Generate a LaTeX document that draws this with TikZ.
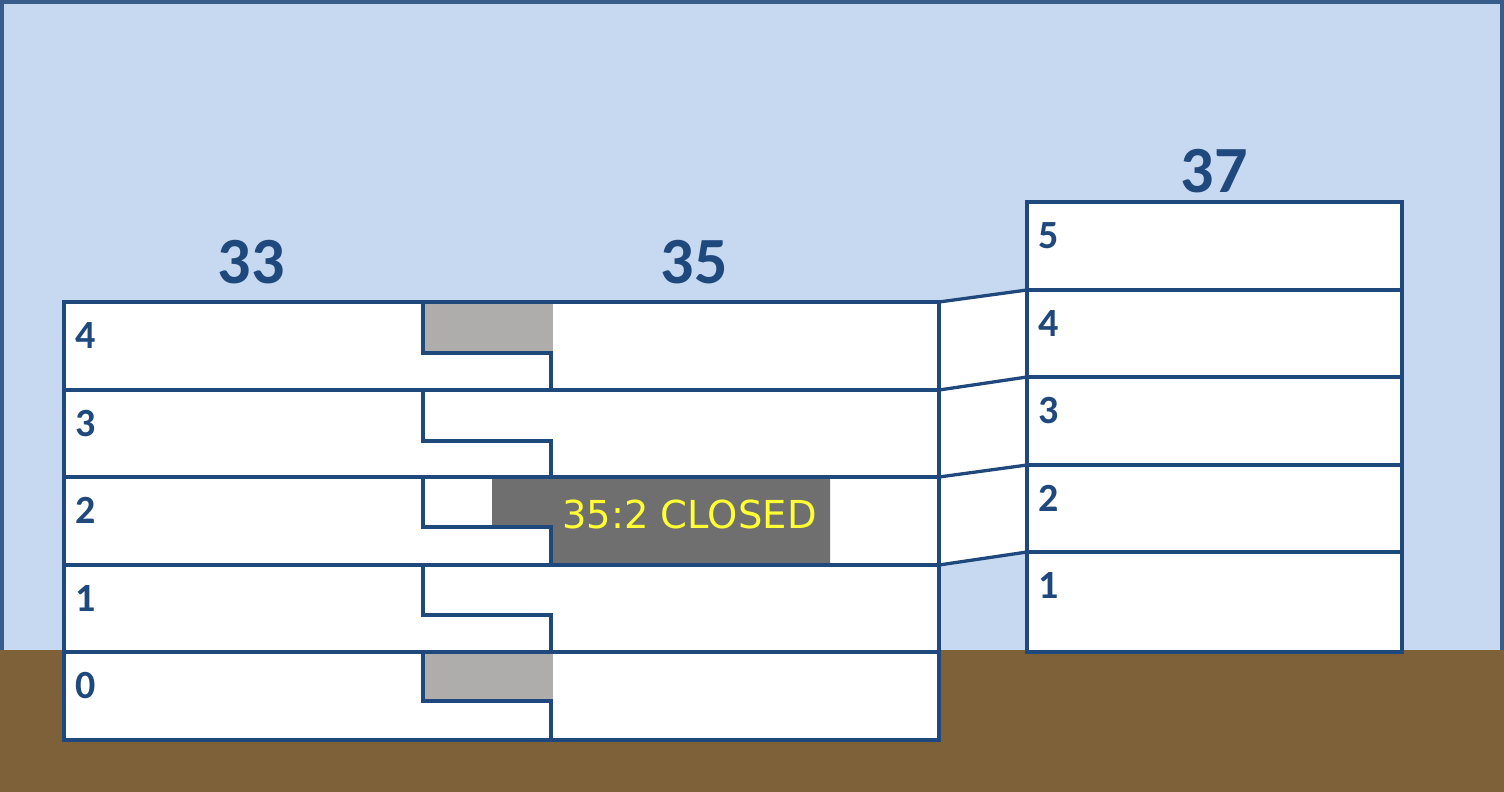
\documentclass[tikz,border=0pt]{standalone}
\usepackage{fontspec}
\setmainfont{Carlito}
\newfontfamily\dejavu{DejaVu Sans}
\definecolor{sky}{HTML}{C6D9F0}
\definecolor{frame}{HTML}{385D8A}
\definecolor{ground}{HTML}{7F6139}
\definecolor{wallblue}{HTML}{1F497D}
\definecolor{lightgray}{HTML}{AEADAB}
\definecolor{darkgray}{HTML}{6F6F6F}
\definecolor{warn}{HTML}{FFFF33}
\tikzset{
  wall/.style={draw=wallblue, line width=3.3pt},
  outline/.style={draw=wallblue, line width=3.8pt, line join=miter},
  heading/.style={text=wallblue, font=\fontsize{66}{66}\selectfont\bfseries, inner sep=0pt, anchor=base},
  floorlabel/.style={text=wallblue, font=\fontsize{40}{40}\selectfont\bfseries, inner sep=0pt, anchor=base west},
  closedlabel/.style={text=warn, font=\dejavu\fontsize{38.5}{38.5}\selectfont, inner sep=0pt, anchor=base},
}
\begin{document}
\begin{tikzpicture}[x=1pt,y=-1pt]
\useasboundingbox (0,0) rectangle (1504,792);
% sky and ground
\fill[sky] (0,0) rectangle (1504,652);
\draw[frame, line width=4pt] (2,2) rectangle (1502,660);
\fill[ground] (0,650) rectangle (1504,792);

% corners
\coordinate (L4) at (939,302);
\coordinate (L3) at (939,390);
\coordinate (L2) at (939,477);
\coordinate (L1) at (939,565);
\coordinate (R4) at (1027,290);
\coordinate (R3) at (1027,377);
\coordinate (R2) at (1027,465);
\coordinate (R1) at (1027,552);

% white fills
\fill[white] (64,302) rectangle (939,740);
\fill[white] (L4) -- (R4) -- (R1) -- (L1) -- cycle;
\fill[white] (1027,202) rectangle (1402,652);

% gray areas
\fill[lightgray] (423,302) rectangle (553,353);
\fill[lightgray] (423,652) rectangle (553,701);
\fill[darkgray] (492,478) -- (830,478) -- (830,565) -- (551,565) -- (551,527) -- (492,527) -- cycle;

% left building inner lines
\foreach \t/\b/\s in {302/390/353, 390/477/441, 477/565/527, 565/652/615, 652/740/701}{
  \draw[wall] (423,\t) -- (423,\s) -- (551,\s) -- (551,\b);
}
\foreach \y in {390,477,565,652}{
  \draw[wall] (64,\y) -- (939,\y);
}
\draw[outline] (64,302) rectangle (939,740);

% right building
\foreach \y in {290,377,465,552}{
  \draw[wall] (1027,\y) -- (1402,\y);
}
\draw[outline] (1027,202) rectangle (1402,652);

% connectors
\draw[wall] (L4) -- (R4);
\draw[wall] (L3) -- (R3);
\draw[wall] (L2) -- (R2);
\draw[wall] (L1) -- (R1);

% headings
\node[heading] (h33) at (251,283) {33};
\node[heading] (h35) at (694,283) {35};
\node[heading] (h37) at (1214,192) {37};

% floor labels left
\node[floorlabel] (f4) at (75,348) {4};
\node[floorlabel] (f3) at (75,436) {3};
\node[floorlabel] (f2) at (75,523) {2};
\node[floorlabel] (f1) at (75,611) {1};
\node[floorlabel] (f0) at (75,698) {0};

% floor labels right
\node[floorlabel] (g5) at (1038,248) {5};
\node[floorlabel] (g4) at (1038,336) {4};
\node[floorlabel] (g3) at (1038,423) {3};
\node[floorlabel] (g2) at (1038,511) {2};
\node[floorlabel] (g1) at (1038,598) {1};

% closed label
\node[closedlabel] (closed) at (689.5,528) {35:2 CLOSED};
\end{tikzpicture}
\end{document}
